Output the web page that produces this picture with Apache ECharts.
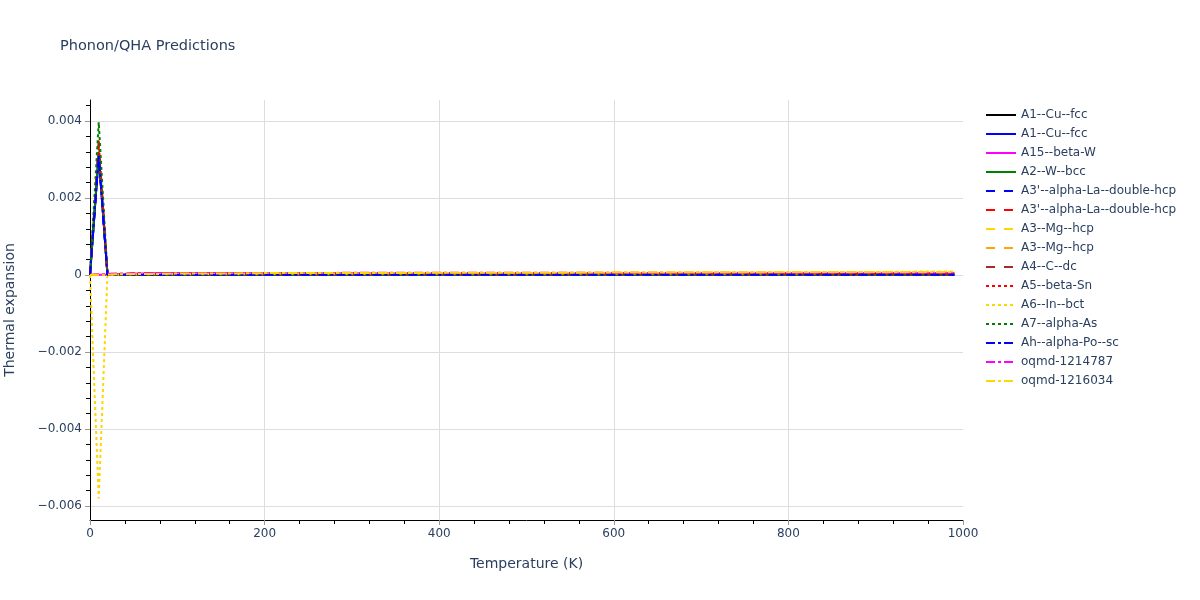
<!DOCTYPE html>
<html>
<head>
<meta charset="utf-8">
<script src="https://cdn.jsdelivr.net/npm/echarts@6/dist/echarts.min.js"></script>
<style>html,body{margin:0;padding:0;background:#fff}#c{width:1200px;height:600px}</style>
</head>
<body>
<div id="c"></div>
<script>
var temps = [0,10,20,30,40,50,60,80,100,150,200,250,300,350,400,450,500,550,600,650,700,750,800,850,900,950,990];

var A1_Cu_fcc_a = [0,0.00310,0.00002,0.00001,0.00001,0.00002,0.00002,0.00002,0.00003,0.00003,0.00003,0.00003,0.00003,0.00003,0.00003,0.00003,0.00003,0.00003,0.00003,0.00003,0.00003,0.00003,0.00003,0.00003,0.00003,0.00003,0.00003];
var A1_Cu_fcc_b = [0,0.00312,0.00001,0.00001,0.00001,0.00001,0.00001,0.00001,0.00001,0.00001,0.00001,0.00001,0.00001,0.00001,0.00001,0.00001,0.00001,0.00001,0.00001,0.00001,0.00001,0.00001,0.00001,0.00001,0.00001,0.00001,0.00001];
var A15_beta_W = [0,0.00001,0.00001,0.00002,0.00003,0.00004,0.00004,0.00005,0.00005,0.00005,0.00005,0.00005,0.00005,0.00005,0.00005,0.00005,0.00005,0.00005,0.00005,0.00005,0.00005,0.00005,0.00005,0.00005,0.00005,0.00005,0.00005];
var A2_W_bcc = [0,0.00320,0.00001,0.00001,0.00001,0.00001,0.00001,0.00001,0.00001,0.00001,0.00001,0.00001,0.00001,0.00001,0.00001,0.00001,0.00001,0.00001,0.00001,0.00001,0.00001,0.00001,0.00001,0.00001,0.00001,0.00001,0.00001];
var A3p_La_a = [0,0.00310,0.00001,0.00001,0.00001,0.00001,0.00001,0.00001,0.00001,0.00001,0.00001,0.00001,0.00001,0.00001,0.00001,0.00001,0.00001,0.00001,0.00001,0.00001,0.00001,0.00001,0.00001,0.00001,0.00001,0.00001,0.00001];
var A3p_La_b = [0,0.00345,0.00002,0.00002,0.00002,0.00002,0.00002,0.00002,0.00002,0.00002,0.00002,0.00002,0.00002,0.00002,0.00002,0.00002,0.00002,0.00002,0.00002,0.00002,0.00002,0.00002,0.00002,0.00002,0.00002,0.00002,0.00002];
var A3_Mg_a = [0,0.00002,0.00002,0.00002,0.00003,0.00003,0.00003,0.00003,0.00004,0.00004,0.00004,0.00004,0.00004,0.00004,0.00004,0.00004,0.00004,0.00004,0.00004,0.00004,0.00004,0.00004,0.00004,0.00005,0.00005,0.00005,0.00005];
var A3_Mg_b = [0,0.00002,0.00003,0.00003,0.00003,0.00003,0.00004,0.00004,0.00004,0.00004,0.00004,0.00005,0.00005,0.00005,0.00005,0.00005,0.00005,0.00005,0.00005,0.00005,0.00005,0.00005,0.00005,0.00005,0.00005,0.00005,0.00005];
var A4_C_dc = [0,0.00340,0.00001,0.00001,0.00001,0.00001,0.00001,0.00001,0.00001,0.00001,0.00001,0.00001,0.00001,0.00001,0.00001,0.00001,0.00001,0.00001,0.00001,0.00001,0.00001,0.00001,0.00001,0.00001,0.00001,0.00001,0.00001];
var A5_beta_Sn = [0,0.00350,0.00002,0.00002,0.00002,0.00002,0.00002,0.00002,0.00002,0.00002,0.00002,0.00002,0.00002,0.00002,0.00002,0.00002,0.00002,0.00002,0.00002,0.00002,0.00002,0.00002,0.00002,0.00002,0.00002,0.00002,0.00002];
var A6_In_bct = [0,-0.00580,0.00001,0.00001,0.00002,0.00002,0.00002,0.00003,0.00003,0.00003,0.00004,0.00004,0.00004,0.00005,0.00005,0.00005,0.00005,0.00006,0.00006,0.00006,0.00007,0.00007,0.00007,0.00008,0.00008,0.00009,0.00009];
var A7_alpha_As = [0,0.00397,0.00001,0.00001,0.00001,0.00001,0.00001,0.00001,0.00001,0.00001,0.00001,0.00001,0.00001,0.00001,0.00001,0.00001,0.00001,0.00001,0.00001,0.00001,0.00001,0.00001,0.00001,0.00001,0.00001,0.00001,0.00001];
var Ah_alpha_Po = [0,0.00310,0.00001,0.00001,0.00001,0.00001,0.00001,0.00001,0.00001,0.00001,0.00001,0.00001,0.00001,0.00001,0.00001,0.00001,0.00001,0.00001,0.00001,0.00001,0.00001,0.00001,0.00001,0.00001,0.00001,0.00001,0.00001];
var oqmd_1214787 = [0,0.00002,0.00003,0.00004,0.00004,0.00005,0.00005,0.00005,0.00005,0.00005,0.00005,0.00005,0.00006,0.00006,0.00006,0.00006,0.00006,0.00006,0.00006,0.00006,0.00006,0.00006,0.00006,0.00006,0.00006,0.00006,0.00006];
var oqmd_1216034 = [0,0.00001,0.00001,0.00002,0.00002,0.00003,0.00003,0.00003,0.00004,0.00004,0.00005,0.00005,0.00005,0.00005,0.00006,0.00006,0.00006,0.00006,0.00007,0.00007,0.00007,0.00007,0.00008,0.00008,0.00008,0.00008,0.00008];

var yMajorTicks = [-0.006,-0.004,-0.002,0,0.002,0.004];
var yMinorTicks = [-0.0056,-0.0052,-0.0048,-0.0044,-0.0036,-0.0032,-0.0028,-0.0024,-0.0016,-0.0012,-0.0008,-0.0004,0.0004,0.0008,0.0012,0.0016,0.0024,0.0028,0.0032,0.0036,0.0044];

var seriesDefs = [
  ['A1--Cu--fcc', A1_Cu_fcc_a, '#000000', 'solid'],
  ['A1--Cu--fcc ', A1_Cu_fcc_b, '#0000ff', 'solid'],
  ['A15--beta-W', A15_beta_W, '#ff00ff', 'solid'],
  ['A2--W--bcc', A2_W_bcc, '#008000', 'solid'],
  ["A3'--alpha-La--double-hcp", A3p_La_a, '#0000ff', 'dash'],
  ["A3'--alpha-La--double-hcp ", A3p_La_b, '#ff0000', 'dash'],
  ['A3--Mg--hcp', A3_Mg_a, '#ffd700', 'dash'],
  ['A3--Mg--hcp ', A3_Mg_b, '#ffa500', 'dash'],
  ['A4--C--dc', A4_C_dc, '#a52a2a', 'dash'],
  ['A5--beta-Sn', A5_beta_Sn, '#ff0000', 'dot'],
  ['A6--In--bct', A6_In_bct, '#ffd700', 'dot'],
  ['A7--alpha-As', A7_alpha_As, '#008000', 'dot'],
  ['Ah--alpha-Po--sc', Ah_alpha_Po, '#0000ff', 'dashdot'],
  ['oqmd-1214787', oqmd_1214787, '#ff00ff', 'dashdot'],
  ['oqmd-1216034', oqmd_1216034, '#ffd700', 'dashdot']
];
var dashMap = {solid: 'solid', dash: [9, 9], dot: [3, 3], dashdot: [9, 3, 3, 3]};

var FONT = '"DejaVu Sans", Verdana, sans-serif';
var TXT = '#2a3f5f';

var series = seriesDefs.map(function (d) {
  return {
    name: d[0],
    type: 'line',
    symbol: 'none',
    showSymbol: false,
    data: temps.map(function (t, i) { return [t, d[1][i]]; }),
    lineStyle: {color: d[2], width: 2, type: dashMap[d[3]]},
    itemStyle: {color: d[2]},
    emphasis: {disabled: true}
  };
});

function yFmt(v) {
  if (Math.abs(v) < 1e-12) return '0';
  return (v < 0 ? '\u2212' : '') + Math.abs(v).toFixed(3);
}

var chart = echarts.init(document.getElementById('c'));
chart.setOption({
  animation: false,
  backgroundColor: '#ffffff',
  textStyle: {fontFamily: FONT},
  title: {
    text: 'Phonon/QHA Predictions',
    left: 55, top: 34,
    textStyle: {fontFamily: FONT, fontSize: 14.5, fontWeight: 'normal', color: TXT}
  },
  legend: {
    orient: 'vertical',
    left: 980, top: 104,
    itemWidth: 30, itemHeight: 14, itemGap: 7,
    itemStyle: {opacity: 0},
    textStyle: {fontFamily: FONT, fontSize: 12, color: TXT},
    formatter: function (n) { return n.trim(); }
  },
  grid: {left: 90, right: 237, top: 100, bottom: 80, containLabel: false, outerBoundsMode: 'none'},
  xAxis: {
    type: 'value', min: 0, max: 1000, interval: 200,
    name: 'Temperature (K)', nameLocation: 'middle', nameGap: 37,
    nameTextStyle: {fontFamily: FONT, fontSize: 14, color: TXT},
    axisLine: {show: true, onZero: false, lineStyle: {color: '#000', width: 1}},
    axisTick: {show: true, inside: false, length: 5, lineStyle: {color: '#999'}},
    minorTick: {show: true, splitNumber: 5, length: 4, lineStyle: {color: '#000'}},
    axisLabel: {fontFamily: FONT, fontSize: 12, color: TXT, margin: 8, formatter: function (v) { return String(v); }},
    splitLine: {show: true, lineStyle: {color: ['#dddddd', '#dddddd', '#dddddd', '#dddddd', '#dddddd', 'rgba(0,0,0,0)'], width: 1}}
  },
  yAxis: [{
    type: 'value', min: -0.00636, max: 0.004545,
    name: 'Thermal expansion', nameLocation: 'middle', nameGap: 73,
    nameTextStyle: {fontFamily: FONT, fontSize: 14, color: TXT},
    axisLine: {show: true, onZero: false, lineStyle: {color: '#000', width: 1}},
    axisTick: {show: true, inside: false, length: 5, customValues: yMajorTicks, lineStyle: {color: '#999'}},
    axisLabel: {fontFamily: FONT, fontSize: 12, color: TXT, margin: 8, customValues: yMajorTicks, formatter: yFmt},
    splitLine: {show: true, lineStyle: {color: '#dddddd', width: 1}}
  }, {
    type: 'value', min: -0.00636, max: 0.004545, position: 'left',
    axisLine: {show: false},
    axisTick: {show: true, inside: false, length: 4, customValues: yMinorTicks, lineStyle: {color: '#000'}},
    axisLabel: {show: false},
    splitLine: {show: false}
  }],
  series: series
});
</script>
</body>
</html>
